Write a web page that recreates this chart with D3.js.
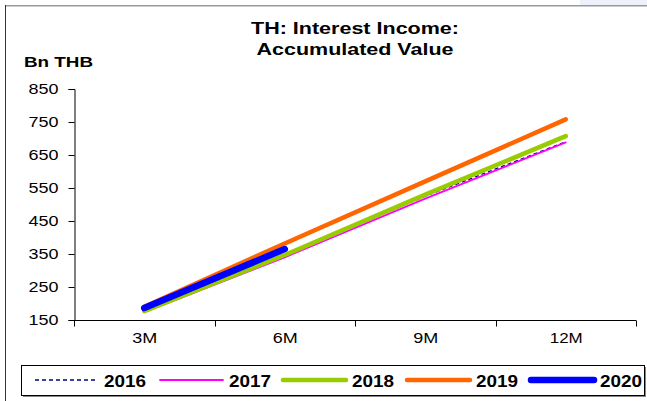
<!DOCTYPE html>
<html>
<head>
<meta charset="utf-8">
<script src="https://cdn.jsdelivr.net/npm/d3@7"></script>
<style>
  html, body { margin: 0; padding: 0; background: #fff; }
  svg { display: block; }
  text { font-family: "Liberation Sans", Arial, sans-serif; fill: #000; }
</style>
</head>
<body>
<svg id="chart" width="647" height="401"></svg>
<script>
// Periods on the x axis
const periods = ["3M", "6M", "9M", "12M"];
// Accumulated interest income, Bn THB
const y2016 = [176, 345, 525, 690];
const y2017 = [174, 340, 518, 688];
const y2018 = [177, 347, 530, 707];
const y2019 = [190, 382, 570, 758];
const y2020 = [186, 365];
const yTicks = [150, 250, 350, 450, 550, 650, 750, 850];
const seriesNames = ["2016", "2017", "2018", "2019", "2020"];

const series = [
  { name: seriesNames[0], values: y2016, color: "#000080", width: 1.3, dash: "4,3" },
  { name: seriesNames[1], values: y2017, color: "#ff00ff", width: 1.8, dash: null },
  { name: seriesNames[2], values: y2018, color: "#99cc00", width: 4.5, dash: null },
  { name: seriesNames[3], values: y2019, color: "#ff6600", width: 4.5, dash: null },
  { name: seriesNames[4], values: y2020, color: "#0000ff", width: 6.5, dash: null }
];

const svg = d3.select("#chart");

// frame: top-right tint, top edge and left edge
svg.append("rect").attr("x", 580).attr("y", 0).attr("width", 67).attr("height", 5).attr("fill", "#eef0fa");
svg.append("line").attr("x1", 5).attr("x2", 647).attr("y1", 5.5).attr("y2", 5.5).attr("stroke", "#999").attr("stroke-width", 1);
svg.append("line").attr("x1", 5).attr("x2", 647).attr("y1", 6.5).attr("y2", 6.5).attr("stroke", "#ccc").attr("stroke-width", 1);
svg.append("line").attr("x1", 5.5).attr("x2", 5.5).attr("y1", 5).attr("y2", 401).attr("stroke", "#333").attr("stroke-width", 1);

const plot = { left: 74, right: 636, top: 89, bottom: 320 };

const x = d3.scalePoint().domain(periods).range([plot.left, plot.right]).padding(0.5);
const xBand = d3.scaleBand().domain(periods).range([plot.left, plot.right]);
const y = d3.scaleLinear().domain([150, 850]).range([plot.bottom, plot.top]);

// title
const title = svg.append("text").attr("text-anchor", "middle").style("font-weight", "bold").style("font-size", "17px");
title.append("tspan").attr("x", 355).attr("y", 34).attr("textLength", 208).attr("lengthAdjust", "spacingAndGlyphs").text("TH: Interest Income:");
title.append("tspan").attr("x", 355).attr("y", 55).attr("textLength", 197).attr("lengthAdjust", "spacingAndGlyphs").text("Accumulated Value");

// unit label
svg.append("text").attr("x", 24).attr("y", 67).style("font-weight", "bold").style("font-size", "15px")
  .attr("textLength", 69).attr("lengthAdjust", "spacingAndGlyphs").text("Bn THB");

// y axis
const yAxis = svg.append("g").attr("transform", `translate(${plot.left + 0.5},0)`)
  .call(d3.axisLeft(y).tickValues(yTicks).tickSize(6).tickPadding(10));
yAxis.select(".domain").attr("stroke", "#000");
yAxis.selectAll(".tick line").attr("stroke", "#000");
yAxis.selectAll(".tick text").style("font-size", "14px").attr("font-family", null)
  .attr("textLength", 30).attr("lengthAdjust", "spacingAndGlyphs");

// x axis: labels at category centres, tick marks at category boundaries
const xAxis = svg.append("g").attr("transform", `translate(0,${plot.bottom + 0.5})`)
  .call(d3.axisBottom(x).tickSize(0).tickPadding(13));
xAxis.select(".domain").attr("stroke", "#000").attr("d", `M${plot.left},0H${plot.right}`);
xAxis.selectAll(".tick text").style("font-size", "14px").attr("font-family", null)
  .each(function (d) { d3.select(this).attr("textLength", d.length === 2 ? 25 : 33).attr("lengthAdjust", "spacingAndGlyphs"); });
const bounds = periods.map(p => xBand(p)).concat([plot.right]);
xAxis.selectAll(".bound").data(bounds).join("line").attr("class", "bound")
  .attr("x1", d => Math.round(d) + 0.5).attr("x2", d => Math.round(d) + 0.5)
  .attr("y1", 0).attr("y2", 6).attr("stroke", "#000");

// series lines
const line = d3.line().x((d, i) => x(periods[i])).y(d => y(d));
svg.append("g").selectAll("path").data(series).join("path")
  .attr("d", s => line(s.values))
  .attr("fill", "none")
  .attr("stroke", s => s.color)
  .attr("stroke-width", s => s.width)
  .attr("stroke-dasharray", s => s.dash)
  .attr("stroke-linecap", s => s.dash ? "butt" : "round")
  .attr("stroke-linejoin", "round");

// legend box with shadow
const lg = { x: 21, y: 365, w: 623, h: 30 };
svg.append("rect").attr("x", lg.x + 2).attr("y", lg.y + 2).attr("width", lg.w).attr("height", lg.h).attr("fill", "#888");
svg.append("rect").attr("x", lg.x + 0.5).attr("y", lg.y + 0.5).attr("width", lg.w).attr("height", lg.h)
  .attr("fill", "#fff").attr("stroke", "#000").attr("stroke-width", 1);

const legendX = [35, 160, 283, 407, 531];
const item = svg.append("g").selectAll("g").data(series).join("g")
  .attr("transform", (d, i) => `translate(${legendX[i]},${lg.y + 15})`);
item.append("line").attr("x1", 0).attr("x2", 63).attr("y1", 0).attr("y2", 0)
  .attr("stroke", d => d.color)
  .attr("stroke-width", d => d.width)
  .attr("stroke-dasharray", d => d.dash)
  .attr("stroke-linecap", d => d.dash ? "butt" : "round");
item.append("text").attr("x", 69).attr("y", 6.5).style("font-weight", "bold").style("font-size", "17px")
  .attr("textLength", 42).attr("lengthAdjust", "spacingAndGlyphs").text(d => d.name);
</script>
</body>
</html>
